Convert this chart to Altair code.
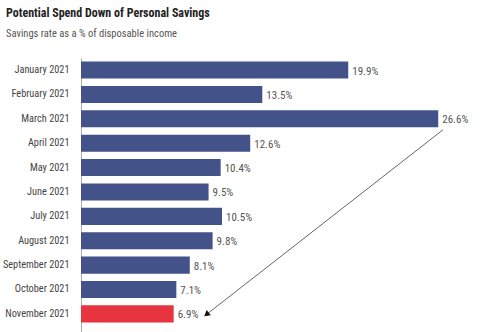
import altair as alt
import pandas as pd

months = ["January 2021", "February 2021", "March 2021", "April 2021", "May 2021",
          "June 2021", "July 2021", "August 2021", "September 2021", "October 2021",
          "November 2021"]
rates = [19.9, 13.5, 26.6, 12.6, 10.4, 9.5, 10.5, 9.8, 8.1, 7.1, 6.9]
labels = ["19.9%", "13.5%", "26.6%", "12.6%", "10.4%", "9.5%", "10.5%", "9.8%", "8.1%", "7.1%", "6.9%"]
highlight = [False] * 10 + [True]

# arrow from March (peak) down to November
arrow_from = {"month": "March 2021", "value": 26.95}
arrow_to = {"month": "November 2021", "value": 9.4}

df = pd.DataFrame({"month": months, "rate": rates, "label": labels, "hl": highlight})
arrow_df = pd.DataFrame({
    "m1": [arrow_from["month"]], "v1": [arrow_from["value"]],
    "m2": [arrow_to["month"]], "v2": [arrow_to["value"]],
})

FONT = "'Roboto Condensed', 'DejaVu Sans Condensed', sans-serif"

yscale = alt.Scale(domain=months, paddingInner=0.3, paddingOuter=0.29, align=0.25)
y = alt.Y("month:N", title=None, scale=yscale,
          axis=alt.Axis(domainColor="#aaaaaa", ticks=False, labelPadding=12,
                        labelFont=FONT, labelFontSize=10.3, labelColor="#444444"))
x = alt.X("rate:Q", title=None, axis=None, scale=alt.Scale(domain=[0, 31.2], nice=False))

base = alt.Chart(df)
bars = base.mark_bar().encode(
    y=y, x=x,
    color=alt.Color("hl:N", scale=alt.Scale(domain=[False, True], range=["#44528a", "#e8343f"]), legend=None),
)
text = base.mark_text(align="left", baseline="middle", dx=4, dy=1.5, font=FONT,
                      fontSize=11, color="#555555").encode(
    y=alt.Y("month:N", scale=yscale), x="rate:Q", text="label:N")

arrow_line = alt.Chart(arrow_df).mark_rule(color="#666666", strokeWidth=1, yOffset=11, y2Offset=0).encode(
    x=alt.X("v1:Q"), x2="v2:Q",
    y=alt.Y("m1:N", scale=yscale), y2="m2:N")
arrow_head = alt.Chart(arrow_df).mark_point(shape="triangle", filled=True, color="#111111",
                                            size=45, angle=232, opacity=1).encode(
    x="v2:Q", y=alt.Y("m2:N", scale=yscale))

chart = alt.layer(bars, text, arrow_line, arrow_head).properties(
    width=419, height=275,
    background="white",
    title=alt.TitleParams(
        "Potential Spend Down of Personal Savings",
        subtitle="Savings rate as a % of disposable income",
        anchor="start", frame="group", dx=-75, offset=18,
        font=FONT, fontSize=12, fontWeight="bold", color="#222222",
        subtitleFont=FONT, subtitleFontSize=10.5, subtitleColor="#555555", subtitlePadding=9),
    autosize=alt.AutoSizeParams(type="none"),
    padding={"left": 81, "top": 58, "right": 0, "bottom": 0},
).configure_view(stroke="transparent", strokeWidth=0)

chart.save("out.html", embed_options={"renderer": "svg", "actions": False})
